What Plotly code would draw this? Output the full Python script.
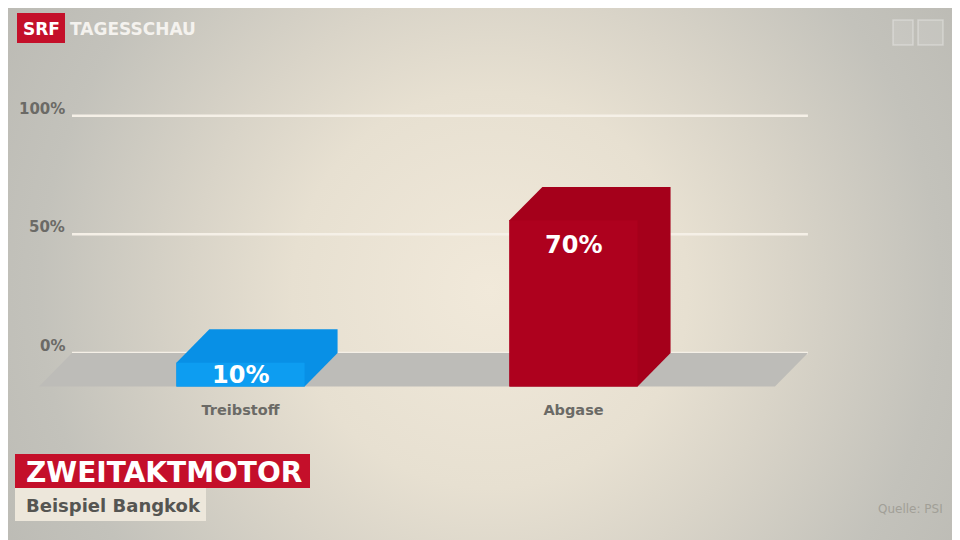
import base64
import plotly.graph_objects as go

categories = ["Treibstoff", "Abgase"]
values = [10, 70]
value_labels = ["10%", "70%"]
side_colors = ["#0890e6", "#a5001b"]
front_colors = ["#0d9df1", "#ae011e"]
tick_vals = [0, 50, 100]
tick_text = ["0%", "50%", "100%"]

W, H = 960, 540
OFF = 8                # page margin the browser puts around the plot div
BAR_W = 0.385          # front face width in category units
DX, DY = 0.099, 14.1   # depth offset (x in category units, y in %)
GRID_X = (-0.506, 1.704)
FONT = "DejaVu Sans"


def px(x):
    return (x - OFF) / W


def py(y):
    return 1 - (y - OFF) / H


# soft radial background like the TV graphic
svg = f'''<svg xmlns="http://www.w3.org/2000/svg" width="{W}" height="{H}" viewBox="0 0 {W} {H}" preserveAspectRatio="none">
<defs><radialGradient id="g" gradientUnits="userSpaceOnUse" cx="482" cy="282" r="600">
<stop offset="0" stop-color="#f1e9da"/>
<stop offset="0.33" stop-color="#e7e0d1"/>
<stop offset="0.5" stop-color="#d9d4c8"/>
<stop offset="0.75" stop-color="#c3c2bb"/>
<stop offset="1" stop-color="#b9b8b2"/>
</radialGradient></defs>
<rect width="{W}" height="{H}" fill="url(#g)"/></svg>'''
bg = "data:image/svg+xml;base64," + base64.b64encode(svg.encode()).decode()

fig = go.Figure()

# floor
fx0, fx1 = GRID_X
fig.add_trace(go.Scatter(
    x=[fx0, fx1, fx1 - DX, fx0 - DX, fx0],
    y=[0, 0, -DY, -DY, 0],
    fill="toself", fillcolor="#bdbcb8", mode="lines", line=dict(width=0),
    hoverinfo="skip", showlegend=False))

# 3d bars
for i, (cat, v) in enumerate(zip(categories, values)):
    l, r = i - BAR_W / 2, i + BAR_W / 2
    fig.add_trace(go.Scatter(
        x=[l, l, l + DX, r + DX, r + DX, r, l],
        y=[-DY, v - DY, v, v, 0, -DY, -DY],
        fill="toself", fillcolor=side_colors[i], mode="lines", line=dict(width=0),
        hoverinfo="skip", showlegend=False))
    fig.add_trace(go.Scatter(
        x=[l, l, r, r, l],
        y=[-DY, v - DY, v - DY, -DY, -DY],
        fill="toself", fillcolor=front_colors[i], mode="lines", line=dict(width=0),
        hoverinfo="skip", showlegend=False))
    fig.add_annotation(
        x=i, y=max(v / 2 - DY, v - DY - 10.4), xref="x", yref="y",
        xanchor="center", yanchor="middle",
        text=value_labels[i], showarrow=False,
        font=dict(family=FONT, size=24, color="white", weight="bold"))

# grid lines at the back plane, labels sitting on them
for t, lab in zip(tick_vals, tick_text):
    fig.add_shape(type="line", xref="x", yref="y", x0=fx0, x1=fx1, y0=t, y1=t,
                  line=dict(color="#f5f0e7", width=2.5), layer="below")
    fig.add_annotation(x=px(67), y=t, xref="paper", yref="y", text=lab,
                       xanchor="right", yanchor="bottom", yshift=-4, showarrow=False,
                       font=dict(family=FONT, size=15, color="#6b6a66", weight="bold"))

# header
fig.add_shape(type="rect", xref="paper", yref="paper",
              x0=px(17), x1=px(65), y0=py(43), y1=py(13),
              fillcolor="#c4102a", line=dict(width=0))
fig.add_annotation(x=px(41), y=py(28.5), xref="paper", yref="paper", text="SRF",
                   xanchor="center", yanchor="middle", showarrow=False,
                   font=dict(family=FONT, size=17, color="white", weight="bold"))
fig.add_annotation(x=px(68), y=py(28.5), xref="paper", yref="paper", text="TAGESSCHAU",
                   xanchor="left", yanchor="middle", showarrow=False,
                   font=dict(family=FONT, size=17, color="#f4f2ee", weight="bold"))
# faint channel bug top right
for x0, x1 in [(893, 913), (918, 943)]:
    fig.add_shape(type="rect", xref="paper", yref="paper",
                  x0=px(x0), x1=px(x1), y0=py(45), y1=py(20),
                  fillcolor="rgba(255,255,255,0.12)", line=dict(color="rgba(255,255,255,0.3)", width=1.5))

# footer title boxes
fig.add_shape(type="rect", xref="paper", yref="paper",
              x0=px(15), x1=px(310), y0=py(488), y1=py(454),
              fillcolor="#c40f2a", line=dict(width=0))
fig.add_annotation(x=px(24), y=py(472), xref="paper", yref="paper", text="ZWEITAKTMOTOR",
                   xanchor="left", yanchor="middle", showarrow=False,
                   font=dict(family=FONT, size=28, color="white", weight="bold"))
fig.add_shape(type="rect", xref="paper", yref="paper",
              x0=px(15), x1=px(206), y0=py(521), y1=py(488),
              fillcolor="#ede7db", line=dict(width=0))
fig.add_annotation(x=px(24), y=py(505), xref="paper", yref="paper", text="Beispiel Bangkok",
                   xanchor="left", yanchor="middle", showarrow=False,
                   font=dict(family=FONT, size=18, color="#555552", weight="bold"))
fig.add_annotation(x=px(945), y=py(509), xref="paper", yref="paper", text="Quelle: PSI",
                   xanchor="right", yanchor="middle", showarrow=False,
                   font=dict(family=FONT, size=12, color="#a19f97"))

fig.update_layout(
    width=W, height=H,
    margin=dict(l=0, r=0, t=0, b=0),
    paper_bgcolor="#d8d4c9",
    plot_bgcolor="rgba(0,0,0,0)",
    images=[dict(source=bg, xref="paper", yref="paper", x=0, y=1, sizex=1, sizey=1,
                 sizing="stretch", xanchor="left", yanchor="top", layer="below")],
    xaxis=dict(range=[(OFF - 240.5) / 333, (OFF + W - 240.5) / 333],
               tickvals=[0, 1], ticktext=categories,
               anchor="free", position=py(387), showgrid=False, zeroline=False,
               showline=False, ticks="", ticklabelstandoff=12, fixedrange=True,
               tickfont=dict(family=FONT, size=14.5, color="#6b6a66", weight="bold")),
    yaxis=dict(range=[(353 - OFF - H) / 2.373, (353 - OFF) / 2.373],
               showticklabels=False, showgrid=False, zeroline=False,
               showline=False, ticks="", fixedrange=True),
)

fig.write_html("out.html")
